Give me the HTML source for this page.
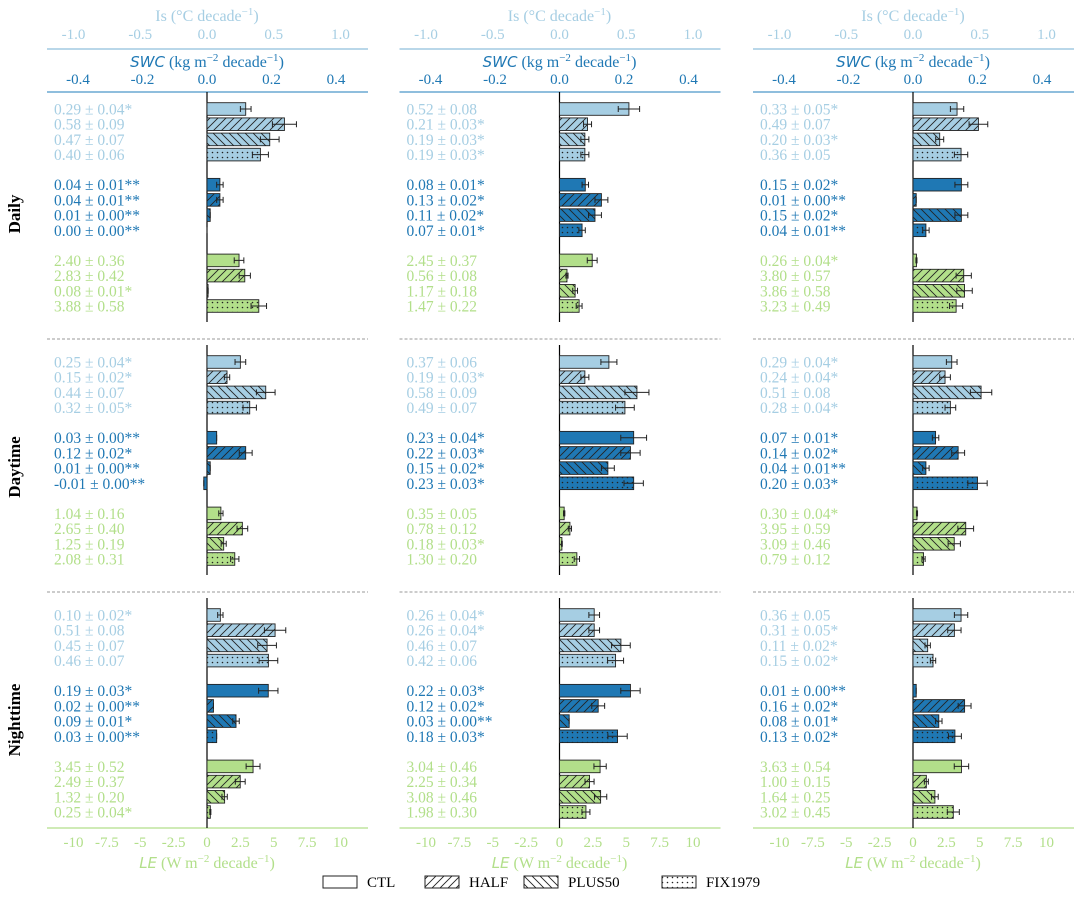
<!DOCTYPE html>
<html><head><meta charset="utf-8"><style>
body{margin:0;background:#fff;}
svg text{font-family:"Liberation Serif",serif;}
</style></head><body>
<svg id="chart" width="1080" height="904" viewBox="0 0 1080 904" xmlns="http://www.w3.org/2000/svg">
<defs>
<pattern id="p-half" patternUnits="userSpaceOnUse" width="8" height="8"><path d="M-2,10 L10,-2 M-2,2 L2,-2 M6,10 L10,6" stroke="#222" stroke-width="0.9"/></pattern>
<pattern id="p-plus" patternUnits="userSpaceOnUse" width="8" height="8"><path d="M-2,-2 L10,10 M6,-2 L10,2 M-2,6 L2,10" stroke="#222" stroke-width="0.9"/></pattern>
<pattern id="p-fix" patternUnits="userSpaceOnUse" width="5" height="5"><circle cx="2.5" cy="2.5" r="0.8" fill="#222"/></pattern>
</defs>
</svg>
<script>
const scenarios=["CTL","HALF","PLUS50","FIX1979"];
const sections=["Daily","Daytime","Nighttime"];
const isTicks=["-1.0","-0.5","0.0","0.5","1.0"];
const swcTicks=["-0.4","-0.2","0.0","0.2","0.4"];
const leTicks=["-10","-7.5","-5","-2.5","0","2.5","5","7.5","10"];
const isVals=[[[.29,.58,.47,.40],[.25,.15,.44,.32],[.10,.51,.45,.46]],[[.52,.21,.19,.19],[.37,.19,.58,.49],[.26,.26,.46,.42]],[[.33,.49,.20,.36],[.29,.24,.51,.28],[.36,.31,.11,.15]]];
const isErr=[[[.04,.09,.07,.06],[.04,.02,.07,.05],[.02,.08,.07,.07]],[[.08,.03,.03,.03],[.06,.03,.09,.07],[.04,.04,.07,.06]],[[.05,.07,.03,.05],[.04,.04,.08,.04],[.05,.05,.02,.02]]];
const isSig=[[["*","","",""],["*","*","","*"],["*","","",""]],[["","*","*","*"],["","*","",""],["*","*","",""]],[["*","","*",""],["*","*","","*"],["","*","*","*"]]];
const swcVals=[[[.04,.04,.01,.00],[.03,.12,.01,-.01],[.19,.02,.09,.03]],[[.08,.13,.11,.07],[.23,.22,.15,.23],[.22,.12,.03,.18]],[[.15,.01,.15,.04],[.07,.14,.04,.20],[.01,.16,.08,.13]]];
const swcErr=[[[.01,.01,.00,.00],[.00,.02,.00,.00],[.03,.00,.01,.00]],[[.01,.02,.02,.01],[.04,.03,.02,.03],[.03,.02,.00,.03]],[[.02,.00,.02,.01],[.01,.02,.01,.03],[.00,.02,.01,.02]]];
const swcSig=[[["**","**","**","**"],["**","*","**","**"],["*","**","*","**"]],[["*","*","*","*"],["*","*","*","*"],["*","*","**","*"]],[["*","**","*","**"],["*","*","**","*"],["**","*","*","*"]]];
const leVals=[[[2.40,2.83,0.08,3.88],[1.04,2.65,1.25,2.08],[3.45,2.49,1.32,0.25]],[[2.45,0.56,1.17,1.47],[0.35,0.78,0.18,1.30],[3.04,2.25,3.08,1.98]],[[0.26,3.80,3.86,3.23],[0.30,3.95,3.09,0.79],[3.63,1.00,1.64,3.02]]];
const leErr=[[[.36,.42,.01,.58],[.16,.40,.19,.31],[.52,.37,.20,.04]],[[.37,.08,.18,.22],[.05,.12,.03,.20],[.46,.34,.46,.30]],[[.04,.57,.58,.49],[.04,.59,.46,.12],[.54,.15,.25,.45]]];
const leSig=[[["","","*",""],["","","",""],["","","","*"]],[["","","",""],["","","*",""],["","","",""]],[["*","","",""],["*","","",""],["","","",""]]];

const svg=document.getElementById('chart');
const NS="http://www.w3.org/2000/svg";
function mk(t,a,txt){const e=document.createElementNS(NS,t);for(const k in a)e.setAttribute(k,a[k]);if(txt!==undefined)e.textContent=txt;svg.appendChild(e);return e;}
const panelZero=[207,559.5,913];
const cIs="#a6cee3",cSwc="#1f78b4",cLe="#b2df8a";
const vars=[{v:isVals,e:isErr,s:isSig,c:cIs,scale:133.5},{v:swcVals,e:swcErr,s:swcSig,c:cSwc,scale:322.5},{v:leVals,e:leErr,s:leSig,c:cLe,scale:13.35}];
const fills=["none","url(#p-half)","url(#p-plus)","url(#p-fix)"];
function xIs(z,v){return z+v*133.5;}
function xSwc(z,v){return z+v*322.5;}
function xLe(z,v){return z+v*13.35;}

for(let p=0;p<3;p++){
  const z=panelZero[p],L=z-160,R=z+161;
  let t=mk('text',{x:z,y:21,'text-anchor':'middle','font-size':16,fill:cIs});
  
  t.innerHTML='Is (°C decade<tspan dy="-6" font-size="11">−1</tspan><tspan dy="6">)</tspan>';
  isTicks.forEach(s=>{const e=mk('text',{x:xIs(z,parseFloat(s)),y:39,'text-anchor':'middle','font-size':15,fill:cIs},s);});
  let l=mk('line',{x1:L,x2:R,y1:49,y2:49,stroke:'#8fbfdc','stroke-width':1.3});
  t=mk('text',{x:z,y:67,'text-anchor':'middle','font-size':16,fill:cSwc});
  
  t.innerHTML='<tspan font-family="DejaVu Sans" font-style="italic" font-size="15">SWC</tspan> (kg m<tspan dy="-6" font-size="11">−2</tspan><tspan dy="6"> decade</tspan><tspan dy="-6" font-size="11">−1</tspan><tspan dy="6">)</tspan>';
  swcTicks.forEach(s=>{const e=mk('text',{x:xSwc(z,parseFloat(s)),y:84,'text-anchor':'middle','font-size':15,fill:cSwc},s);});
  l=mk('line',{x1:L,x2:R,y1:92,y2:92,stroke:'#6aa8d2','stroke-width':1.6});
  l=mk('line',{x1:L,x2:R,y1:828,y2:828,stroke:cLe,'stroke-width':1.3});
  leTicks.forEach(s=>{const e=mk('text',{x:xLe(z,parseFloat(s)),y:847,'text-anchor':'middle','font-size':15,fill:cLe},s);});
  t=mk('text',{x:z,y:868,'text-anchor':'middle','font-size':16,fill:cLe});
  
  t.innerHTML='<tspan font-family="DejaVu Sans" font-style="italic" font-size="15">LE</tspan> (W m<tspan dy="-6" font-size="11">−2</tspan><tspan dy="6"> decade</tspan><tspan dy="-6" font-size="11">−1</tspan><tspan dy="6">)</tspan>';
  for(let s=0;s<3;s++){
    const base=109+s*253;
    if(s>0){const d=mk('line',{x1:L,x2:R,y1:base-23,y2:base-23,stroke:'#999','stroke-width':1,'stroke-dasharray':'3,2'});}
    const zl=mk('line',{x1:z,x2:z,y1:base-17,y2:base+213,stroke:'#000','stroke-width':1.2});
    for(let g=0;g<3;g++){
      const V=vars[g];
      for(let i=0;i<4;i++){
        const y=base+g*75.7+i*15.2;
        const val=V.v[p][s][i],err=V.e[p][s][i];
        const lab=mk('text',{x:L+7,y:y+5.5,'font-size':15.5,fill:V.c},val.toFixed(2)+' ± '+err.toFixed(2)+V.s[p][s][i]);
        
        const xe=z+val*V.scale;
        const x0=Math.min(z,xe),w=Math.abs(xe-z);
        const r=mk('rect',{x:x0,y:y-6.3,width:w,height:12.6,fill:V.c,stroke:'#222','stroke-width':0.9});
        
        if(i>0&&w>0){const h=mk('rect',{x:x0,y:y-6.3,width:w,height:12.6,fill:fills[i],stroke:'none'});}
        const ew=err*V.scale;
        const eb=mk('path',{d:`M${xe-ew},${y} H${xe+ew} M${xe-ew},${y-3} V${y+3} M${xe+ew},${y-3} V${y+3}`,stroke:'#222','stroke-width':1,fill:'none'});
        
      }
    }
  }
}
sections.forEach((s,k)=>{const cy=109+k*253+105;const e=mk('text',{x:20,y:cy,'text-anchor':'middle','font-size':17,'font-weight':'bold',transform:`rotate(-90 20 ${cy})`},s);});
const lx=[323,425,524,662];
scenarios.forEach((s,i)=>{
  const b=mk('rect',{x:lx[i],y:876,width:34,height:12,fill:i?fills[i]:'#fff',stroke:'#222','stroke-width':1});
  
  const t=mk('text',{x:lx[i]+44,y:887,'font-size':15},s);
  
});
</script>
</body></html>
